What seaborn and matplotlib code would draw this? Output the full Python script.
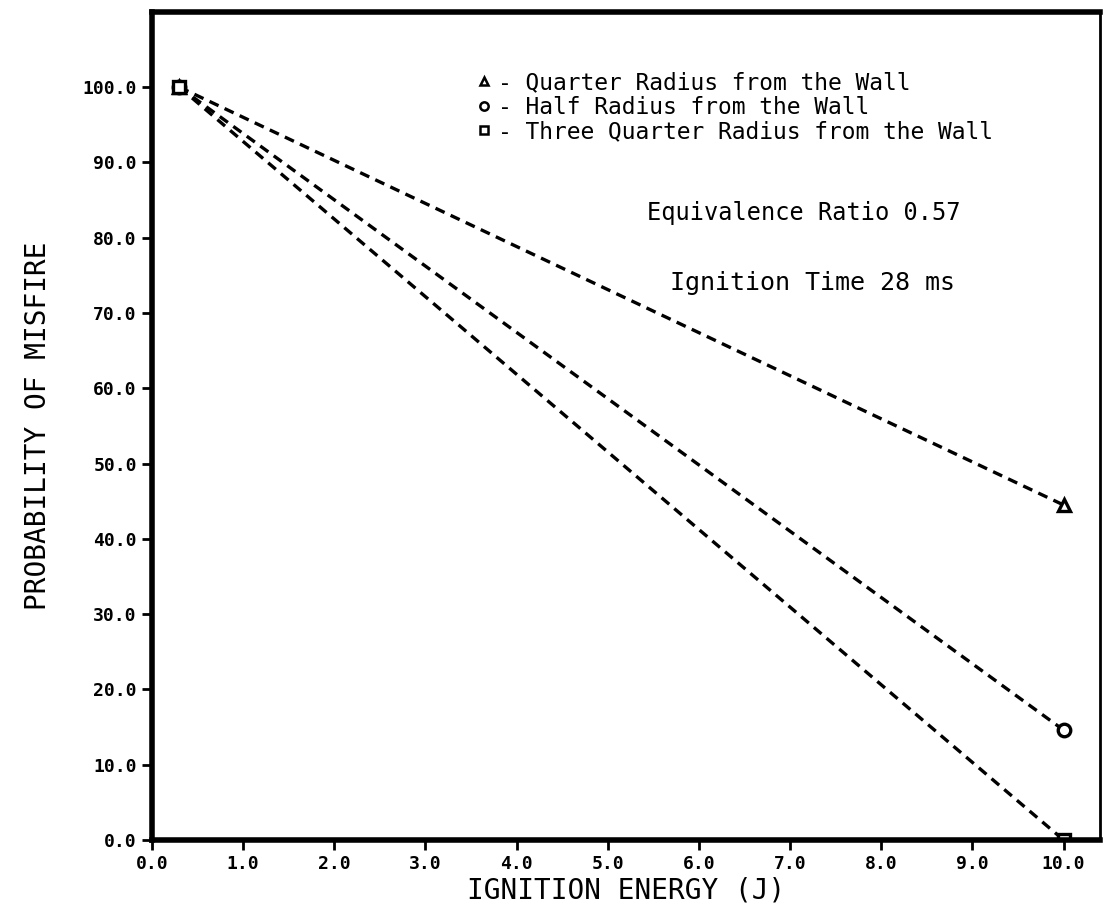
import matplotlib
matplotlib.use("Agg")
import matplotlib.pyplot as plt
from matplotlib.lines import Line2D
import seaborn as sns
import pandas as pd

# Ignition energy (J) and probability of misfire (%) for three spark positions
energy = [0.3, 10.0]
quarter_radius = [100.0, 44.5]
half_radius = [100.0, 14.6]
three_quarter_radius = [100.0, 0.0]

series_names = ["Quarter Radius from the Wall",
                "Half Radius from the Wall",
                "Three Quarter Radius from the Wall"]
series_markers = ["^", "o", "s"]

x_ticks = [0.0, 1.0, 2.0, 3.0, 4.0, 5.0, 6.0, 7.0, 8.0, 9.0, 10.0]
y_ticks = [0.0, 10.0, 20.0, 30.0, 40.0, 50.0, 60.0, 70.0, 80.0, 90.0, 100.0]

rows = []
for name, vals in zip(series_names, [quarter_radius, half_radius, three_quarter_radius]):
    for e, p in zip(energy, vals):
        rows.append({"energy": e, "prob": p, "position": name})
df = pd.DataFrame(rows)

sns.set_theme(style="white")
plt.rcParams["font.family"] = ["DejaVu Sans Mono"]
plt.rcParams["text.color"] = "black"
plt.rcParams["axes.labelcolor"] = "black"

fig = plt.figure(figsize=(11.08, 9.15), dpi=100)
ax = fig.add_axes([0.1372, 0.082, 0.8556, 0.905])

for name, mk in zip(series_names, series_markers):
    sub = df[df["position"] == name]
    sns.lineplot(data=sub, x="energy", y="prob", ax=ax, color="black",
                 linestyle=(0, (3, 2.0)), linewidth=2.4, marker=mk,
                 markersize=9, markerfacecolor="white", markeredgecolor="black",
                 markeredgewidth=2.4, legend=False)

ax.set_xlim(0, 10.4)
ax.set_ylim(0, 110)
ax.set_xticks(x_ticks)
ax.set_yticks(y_ticks)
ax.set_xticklabels([f"{v:.1f}" for v in x_ticks], fontsize=13, fontweight="bold")
ax.set_yticklabels([f"{v:.1f}" for v in y_ticks], fontsize=13, fontweight="bold")
ax.tick_params(axis="both", direction="out", length=7, width=2, color="black",
               labelcolor="black", bottom=True, left=True, pad=4)

for s in ax.spines.values():
    s.set_visible(True)
    s.set_color("black")
ax.spines["left"].set_linewidth(4)
ax.spines["bottom"].set_linewidth(4)
ax.spines["top"].set_linewidth(4)
ax.spines["right"].set_linewidth(2)

ax.set_xlabel("IGNITION ENERGY (J)", fontsize=20, labelpad=2)
ax.set_ylabel("PROBABILITY OF MISFIRE", fontsize=20, labelpad=22)

handles = [Line2D([], [], linestyle="none", marker=mk, markersize=6,
                  markerfacecolor="white", markeredgecolor="black",
                  markeredgewidth=1.8) for mk in series_markers]
ax.legend(handles, ["- " + n for n in series_names], loc="upper left",
          bbox_to_anchor=(0.343, 0.928), frameon=False, fontsize=16.5,
          handlelength=0.6, handletextpad=0.3, labelspacing=0.05,
          borderaxespad=0.0, borderpad=0.0)

ax.text(0.687, 0.757, "Equivalence Ratio 0.57", transform=ax.transAxes,
        fontsize=17, ha="center", va="center")
ax.text(0.697, 0.673, "Ignition Time 28 ms", transform=ax.transAxes,
        fontsize=18, ha="center", va="center")

fig.savefig("out.png", dpi=100, facecolor="white")
